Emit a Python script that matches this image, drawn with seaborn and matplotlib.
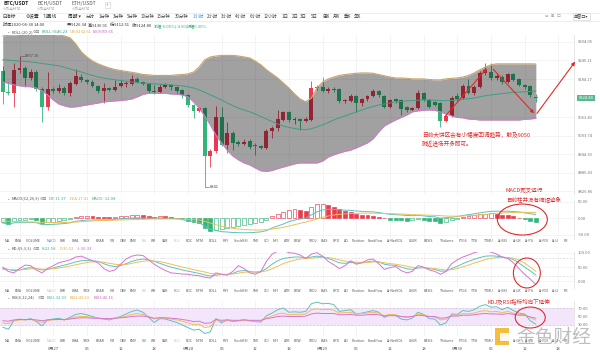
import numpy as np
import matplotlib
matplotlib.use("Agg")
import matplotlib.pyplot as plt
from matplotlib.patches import Ellipse, FancyBboxPatch
import seaborn as sns

# ---------------- data (BTC/USDT, 1h, 06-26 15:00 .. 06-30 14:00) ----------------
opens = [9211, 9144, 9139, 9213, 9219, 9187, 9208, 9152, 9095, 9152, 9148, 9156, 9140, 9169, 9192, 9180,
         9176, 9163, 9147, 9155, 9150, 9163, 9168, 9170, 9184, 9175, 9169, 9146, 9143, 9160, 9165, 9158,
         9150, 9134, 9102, 9084, 9092, 8939, 8956, 9065, 8975, 9014, 8985, 8978, 8988, 8975, 8971, 8964,
         9019, 9028, 9054, 9078, 9054, 9056, 9052, 9054, 9157, 9160, 9148, 9152, 9152, 9113, 9115, 9131,
         9107, 9120, 9130, 9145, 9131, 9097, 9120, 9118, 9097, 9086, 9092, 9139, 9118, 9110, 9107, 9052,
         9067, 9130, 9124, 9163, 9140, 9160, 9203, 9208, 9187, 9192, 9175, 9200, 9184, 9166, 9163, 9126.34]
highs = [9225, 9176, 9237, 9257.16, 9225, 9215, 9212, 9160, 9208, 9158, 9170, 9162, 9178, 9216, 9202, 9186,
         9180, 9166, 9172, 9160, 9181, 9180, 9178, 9197, 9190, 9178, 9172, 9165, 9168, 9172, 9170, 9163,
         9152, 9137, 9105, 9096, 9095, 8962, 9099, 9097, 9048, 9020, 8990, 8992, 8994, 8980, 8975, 9024,
         9035, 9086, 9084, 9083, 9062, 9060, 9062, 9177, 9166, 9192, 9158, 9158, 9155, 9122, 9136, 9134,
         9124, 9135, 9152, 9150, 9134, 9122, 9125, 9120, 9100, 9096, 9150, 9142, 9121, 9114, 9110, 9070,
         9130, 9140, 9168, 9184, 9165, 9210, 9237, 9237, 9200, 9197, 9205, 9204, 9188, 9170, 9166, 9136.91]
lows = [9105, 9134, 9097, 9205, 9160, 9183, 9145, 9049, 9086, 9140, 9140, 9133, 9132, 9165, 9176, 9170,
        9158, 9141, 9108, 9146, 9146, 9158, 9160, 9165, 9172, 9164, 9140, 9138, 9140, 9156, 9150, 9140,
        9125, 9097, 9060, 9080, 8841, 8905, 8950, 8970, 8949, 8958, 8970, 8974, 8960, 8941, 8960, 8960,
        8997, 9020, 9050, 9048, 9040, 9022, 9046, 9050, 9150, 9144, 9140, 9144, 9108, 9108, 9110, 9081,
        9100, 9116, 9126, 9128, 9093, 9093, 9108, 9070, 9080, 9082, 9088, 9114, 9093, 9098, 9033, 9046,
        9062, 9116, 9120, 9136, 9135, 9155, 9198, 9182, 9182, 9170, 9172, 9178, 9162, 9152, 9128, 9112.51]
closes = [9144, 9139, 9213, 9219, 9187, 9208, 9152, 9095, 9152, 9148, 9156, 9140, 9171, 9194, 9180, 9175,
          9163, 9147, 9155, 9151, 9160, 9171, 9172, 9184, 9175, 9169, 9145, 9143, 9160, 9165, 9158, 9146,
          9134, 9102, 9084, 9092, 8939, 8956, 9065, 8975, 9014, 8982, 8978, 8984, 8969, 8970, 8965, 9019,
          9030, 9056, 9078, 9054, 9056, 9052, 9056, 9157, 9160, 9148, 9152, 9150, 9113, 9118, 9131, 9107,
          9120, 9130, 9145, 9134, 9097, 9118, 9113, 9088, 9086, 9092, 9139, 9118, 9097, 9103, 9052, 9067,
          9125, 9120, 9163, 9140, 9160, 9203, 9213, 9187, 9195, 9175, 9200, 9182, 9166, 9160, 9134, 9124.80]

boll_up = [9322, 9324, 9325, 9327, 9329, 9329, 9329, 9329, 9329, 9327, 9325, 9322, 9316, 9297, 9271, 9255,
           9242, 9233, 9226, 9220, 9215, 9212, 9209, 9206, 9203, 9199, 9198, 9196, 9196, 9196, 9196, 9198,
           9199, 9201, 9207, 9223, 9246, 9255, 9258, 9260, 9260, 9260, 9258, 9255, 9252, 9242, 9230, 9214,
           9201, 9188, 9172, 9156, 9137, 9121, 9112, 9124, 9156, 9175, 9185, 9191, 9196, 9199, 9201, 9203,
           9204, 9204, 9203, 9199, 9195, 9191, 9188, 9188, 9187, 9185, 9185, 9185, 9183, 9182, 9182, 9185,
           9187, 9188, 9191, 9196, 9204, 9214, 9223, 9230, 9233, 9233, 9233, 9233, 9233, 9233, 9233, 9232.61]
boll_mid = [9246, 9245, 9243, 9242, 9241, 9239, 9237, 9234, 9232, 9229, 9227, 9222, 9217, 9212, 9207, 9201,
            9196, 9191, 9188, 9185, 9182, 9180, 9178, 9175, 9174, 9172, 9171, 9169, 9168, 9167, 9166, 9164,
            9163, 9160, 9156, 9150, 9142, 9134, 9126, 9118, 9108, 9100, 9092, 9086, 9080, 9073, 9065, 9057,
            9049, 9041, 9035, 9030, 9027, 9024, 9023, 9026, 9032, 9038, 9046, 9054, 9061, 9067, 9073, 9080,
            9086, 9092, 9097, 9102, 9105, 9108, 9112, 9113, 9115, 9116, 9117, 9118, 9118, 9117, 9116, 9116,
            9116, 9118, 9120, 9122, 9124, 9128, 9131, 9134, 9136, 9138, 9140, 9142, 9143, 9144, 9145, 9146.23]
boll_dn = [9175, 9171, 9166, 9163, 9161, 9160, 9156, 9147, 9134, 9118, 9105, 9099, 9095, 9096, 9099, 9102,
           9105, 9108, 9112, 9113, 9115, 9116, 9118, 9121, 9128, 9136, 9139, 9139, 9139, 9139, 9137, 9136,
           9134, 9128, 9112, 9092, 9067, 9038, 9006, 8981, 8958, 8939, 8927, 8917, 8911, 8901, 8892, 8890,
           8893, 8899, 8904, 8909, 8914, 8917, 8917, 8917, 8917, 8923, 8936, 8943, 8949, 8954, 8958, 8965,
           8973, 8981, 8994, 9016, 9035, 9045, 9054, 9062, 9070, 9080, 9083, 9085, 9086, 9085, 9080, 9073,
           9067, 9062, 9061, 9057, 9056, 9054, 9054, 9054, 9054, 9054, 9054, 9054, 9054, 9056, 9057, 9059.65]

macd_hist = [-12, -16, -8, -6, -5, -3, -4, -14, -12, -10, -8, -6, -3, 4, 6, 8,
             6, 5, 4, 3, 5, 7, 8, 9, 10, 9, 7, 5, 6, 6, 4, 2,
             -3, -8, -12, -14, -30, -38, -35, -32, -28, -25, -22, -20, -17, -14, -11, -6,
             6, 14, 20, 26, 28, 26, 23, 35, 43, 44, 40, 34, 27, 22, 19, 14,
             11, 9, 8, 5, 0, -4, -5, -6, -7, -6, -3, -5, -8, -9, -15, -10,
             -6, -2, 3, 6, 9, 12, 14, 15, 13, 10, 9, 6, 2, -3, -8, -12.08]
macd_dea = [-8, -9, -9.5, -10, -10.5, -11, -11, -12, -12.5, -13, -13, -12.5, -12, -11, -10, -9,
            -8, -7, -6.5, -6, -5.5, -5, -4.5, -4, -3.5, -3, -2.5, -2, -2, -2, -2, -2,
            -2.5, -3, -4, -5, -9, -14, -19, -24, -27, -30, -32, -33.5, -34.5, -35, -35, -34,
            -32, -30, -27, -23, -19, -15, -11, -7, -2, 3, 7, 10, 12, 13.5, 14.5, 15,
            15.5, 15.5, 15.5, 15, 14.5, 14, 13.5, 13, 12, 11, 10.5, 10, 9.5, 9, 8, 7,
            6.5, 6.5, 7, 8, 9, 10.5, 12, 13.5, 15, 16, 17, 17.5, 18, 18, 17.8, 17.41]
macd_dif = [-14, -17, -13.5, -13, -13, -12.5, -13, -19, -18.5, -18, -17, -15.5, -13.5, -9, -7, -5,
            -5, -4.5, -4.5, -4.5, -3, -1.5, -0.5, 0.5, 1.5, 1.5, 1, 0.5, 1, 1, 0, -1,
            -4, -7, -10, -12, -24, -33, -36.5, -40, -41, -42.5, -43, -43.5, -43, -42, -40.5, -37,
            -29, -23, -17, -10, -5, -2, 0.5, 10.5, 19.5, 25, 27, 27, 25.5, 24.5, 24, 22,
            21, 20, 19.5, 17.5, 14.5, 12, 11, 10, 8.5, 8, 9, 7.5, 5.5, 4.5, 0.5, 2,
            3.5, 5.5, 8.5, 11, 13.5, 16.5, 19, 21, 21.5, 21, 21.5, 20.5, 19, 16.5, 13.8, 11.37]

kdj_k = [45, 42, 38, 40, 45, 48, 45, 40, 42, 47, 52, 57, 62, 68, 72, 73,
         72, 70, 62, 55, 52, 55, 62, 70, 75, 78, 75, 70, 63, 56, 50, 45,
         40, 36, 32, 28, 23, 19, 22, 24, 24, 28, 36, 38, 35, 32, 34, 45,
         60, 72, 80, 83, 85, 85, 82, 85, 88, 86, 80, 73, 65, 63, 66, 64,
         65, 68, 71, 68, 60, 57, 56, 50, 44, 42, 47, 48, 45, 42, 36, 36,
         45, 53, 62, 70, 77, 83, 88, 89, 88, 85, 82, 76, 64, 50, 37, 22.58]
kdj_d = [42, 42, 41, 40, 42, 44, 44, 43, 43, 44, 47, 50, 54, 58, 62, 66,
         68, 69, 67, 63, 60, 58, 59, 63, 67, 70, 72, 71, 69, 65, 60, 55,
         50, 46, 41, 37, 33, 28, 26, 25, 25, 26, 29, 32, 33, 33, 33, 37,
         44, 53, 62, 69, 74, 78, 80, 81, 83, 84, 83, 80, 75, 71, 69, 67,
         66, 66, 68, 68, 65, 62, 60, 57, 53, 49, 48, 48, 47, 45, 42, 40,
         41, 45, 51, 57, 64, 70, 76, 80, 83, 84, 83, 81, 74, 64, 50, 35.52]
kdj_j = [50, 35, 30, 45, 57, 55, 40, 30, 45, 55, 65, 70, 75, 85, 88, 80,
         72, 65, 45, 35, 40, 60, 78, 88, 92, 90, 75, 60, 48, 38, 30, 28,
         26, 25, 22, 20, 15, 12, 30, 25, 22, 35, 55, 45, 30, 25, 35, 70,
         95, 105, 108, 100, 98, 92, 80, 95, 100, 88, 70, 58, 45, 55, 72, 60,
         65, 75, 78, 62, 42, 48, 52, 38, 30, 35, 55, 50, 40, 35, 25, 35,
         62, 75, 85, 92, 100, 105, 108, 102, 95, 85, 80, 65, 45, 25, 8, -10.33]

rsi1 = [25, 20, 40, 44, 42, 45, 38, 28, 42, 44, 46, 42, 48, 55, 57, 54,
        50, 46, 44, 42, 46, 50, 56, 62, 65, 60, 48, 36, 45, 44, 40, 36,
        30, 24, 18, 20, 10, 14, 45, 35, 42, 38, 40, 42, 40, 38, 37, 52,
        58, 66, 70, 60, 61, 60, 62, 80, 84, 80, 81, 78, 62, 64, 66, 56,
        58, 61, 64, 60, 48, 55, 53, 44, 42, 46, 60, 55, 45, 44, 30, 35,
        56, 55, 64, 62, 66, 74, 78, 72, 73, 66, 72, 64, 58, 56, 40, 32.03]
rsi2 = [35, 33, 40, 42, 42, 43, 40, 36, 41, 42, 43, 42, 45, 49, 50, 50,
        48, 46, 45, 44, 46, 48, 51, 55, 57, 55, 50, 44, 47, 46, 44, 42,
        39, 35, 31, 32, 24, 26, 42, 38, 41, 39, 40, 41, 40, 39, 39, 47,
        51, 56, 58, 54, 55, 55, 56, 66, 68, 66, 67, 65, 58, 59, 60, 56,
        57, 58, 60, 58, 52, 55, 54, 50, 48, 50, 56, 54, 50, 49, 42, 44,
        53, 53, 57, 56, 58, 62, 64, 61, 62, 59, 62, 58, 55, 54, 47, 41.63]
rsi3 = [40, 39, 42, 43, 43, 43, 42, 40, 42, 43, 43, 43, 44, 46, 47, 47,
        46, 46, 45, 45, 46, 47, 48, 50, 51, 51, 49, 46, 47, 47, 46, 45,
        43, 41, 38, 39, 34, 35, 43, 41, 42, 41, 41, 42, 41, 41, 41, 45,
        47, 50, 51, 50, 50, 50, 51, 56, 58, 57, 57, 57, 54, 54, 55, 53,
        53, 54, 55, 54, 51, 52, 52, 50, 49, 50, 53, 52, 50, 50, 46, 47,
        51, 51, 53, 53, 54, 56, 57, 56, 56, 55, 57, 55, 53, 53, 49, 46.16]

date_pos = [9, 15, 21, 27, 33, 39, 45, 51, 57, 63, 69, 75, 81, 87, 93, 99]
date_labels = ["6月27", "06", "12", "18", "6月28", "06", "12", "18",
               "6月29", "06", "12", "18", "6月30", "06", "12", "18"]
price_ticks = [9304.05, 9245.11, 9184.17, 9063.49, 9003.74, 8944.39, 8885.43, 8826.86]
last_price = 9124.80
macd_ticks = [50, 0, -50]
kdj_ticks = [100, 50, 0]
rsi_ticks = [70, 50, 30]

indicators = ["MA", "EMA", "VOLUME", "MACD", "DMI", "DMA", "TRIX", "BRAR", "VR", "OBV", "EMV", "RSI", "WR",
              "SAR", "KDJ", "ROC", "MTM", "BOLL", "PSY", "StochRSI", "SMI", "CCI", "MFI", "ATR", "BBW", "SKDJ",
              "BIAS", "DPO", "AO", "Position", "Fundflow", "AI-NetVOL", "LSUR", "BASIS", "TVolume", "FTGS",
              "TTSI", "TTMU", "AI-BSI", "AI-LR", "AI-PG", "AI-FDI", "AI-LI", "PR"]
ind_x = [7, 18, 33, 51, 63, 75, 87, 100, 112, 123, 133, 144, 154, 165, 177, 189, 200, 213, 226, 241, 256,
         266, 276, 287, 297, 313, 324, 336, 346, 358, 375, 395, 413, 428, 447, 463, 475, 489, 503, 517,
         530, 543.5, 556, 566]

periods = ["分时", "1分钟", "3分钟", "5分钟", "10分钟", "15分钟", "30分钟", "1小时", "2小时", "3小时",
           "4小时", "6小时", "12小时", "1日", "2日", "3日", "5日", "周K", "月K", "季K", "年K"]
period_x = [86, 99, 113, 127, 141, 157, 175, 193, 207, 221, 235, 250, 264, 282, 292, 300, 311, 323, 333,
            344, 354]

# ---------------- style ----------------
sns.set_theme(style="white")
plt.rcParams["font.family"] = ["Noto Sans CJK SC", "DejaVu Sans"]
plt.rcParams["axes.unicode_minus"] = False

RED = "#ea3a4f"
GREEN = "#33b57a"
TEAL = "#5dc2bd"
GOLD = "#f0bf55"
PINK = "#d774d3"
ANN = "#e12a2a"
GRID = "#f0f0f0"

W, H = 600, 355
fig = plt.figure(figsize=(6, 3.55), dpi=100)
fig.patch.set_facecolor("white")


def px_rect(x0, y0, x1, y1):
    return [x0 / W, 1 - y1 / H, (x1 - x0) / W, (y1 - y0) / H]


def ftext(x, y, s, fs=3.2, color="#333333", ha="left", **kw):
    fig.text(x / W, 1 - y / H, s, fontsize=fs, color=color, ha=ha, va="center", **kw)


x = np.arange(len(closes))
XL = (-0.48, 101.8)
grid_x = np.arange(3, 102, 6)


def style_panel(ax, ticks, labels, ylim):
    ax.set_xlim(*XL)
    ax.set_ylim(*ylim)
    ax.set_yticks(ticks)
    ax.set_yticklabels(labels)
    ax.yaxis.tick_right()
    ax.tick_params(axis="y", length=0, pad=3, labelsize=3.0, labelcolor="#777777")
    ax.set_xticks([])
    for s in ["top", "left", "bottom"]:
        ax.spines[s].set_visible(False)
    ax.spines["right"].set_color("#e2e2e2")
    ax.spines["right"].set_linewidth(0.6)
    for t in ticks:
        ax.axhline(t, color=GRID, lw=0.5, zorder=0)
    for g in grid_x:
        ax.axvline(g, color=GRID, lw=0.5, zorder=0)
    ax.set_xlabel("")
    ax.set_ylabel("")


# ---------------- main candle panel ----------------
ax = fig.add_axes(px_rect(0, 35, 574, 194))
o = np.array(opens); c = np.array(closes); h = np.array(highs); l = np.array(lows)
up = c >= o
cols = np.where(up, RED, GREEN)
ax.vlines(x, l, h, colors=cols, lw=0.6, zorder=2)
ax.bar(x, np.maximum(np.abs(c - o), 0.8), bottom=np.minimum(o, c), width=0.7, color=cols, lw=0, zorder=2)
ax.fill_between(x, boll_dn, boll_up, color="black", alpha=0.37, lw=0, zorder=3)
sns.lineplot(x=x, y=boll_up, ax=ax, color="#c9a468", lw=0.8, zorder=4)
sns.lineplot(x=x, y=boll_dn, ax=ax, color="#d27ac9", lw=0.8, zorder=4)
sns.lineplot(x=x, y=boll_mid, ax=ax, color="#3f9e82", lw=0.7, zorder=4)
style_panel(ax, price_ticks, ["%.2f" % p for p in price_ticks], (8818, 9325))

ih = int(np.argmax(h)); il = int(np.argmin(l))
ax.plot([ih + 0.25, ih + 0.9], [h[ih], h[ih]], color="#555555", lw=0.4, zorder=5)
ax.text(ih + 1.0, h[ih], "%.2f" % h[ih], fontsize=2.9, color="#444444", va="center", zorder=5)
ax.plot([il, il + 0.8], [l[il], l[il]], color="#555555", lw=0.4, zorder=5)
ax.text(il + 0.95, l[il], "%d" % l[il], fontsize=2.9, color="#444444", va="center", zorder=5)

arrow = dict(arrowstyle="-|>", color=ANN, lw=0.8, mutation_scale=5, shrinkA=0, shrinkB=0)
ax.annotate("", xy=(86.3, 9219), xytext=(78.9, 9067), arrowprops=arrow, annotation_clip=False, zorder=6)
ax.annotate("", xy=(94.7, 9075), xytext=(87.4, 9216), arrowprops=arrow, annotation_clip=False, zorder=6)
ax.annotate("", xy=(102.0, 9240), xytext=(95.2, 9075), arrowprops=arrow, annotation_clip=False, zorder=6)

# ---------------- MACD panel ----------------
axm = fig.add_axes(px_rect(0, 201, 574, 239))
hist = np.array(macd_hist)
prev = np.concatenate([[hist[0] - 1], hist[:-1]])
for i, v in enumerate(hist):
    col = RED if v >= 0 else GREEN
    hollow = v > prev[i]
    axm.bar(i, v, width=0.7, color="white" if hollow else col, edgecolor=col, lw=0.45, zorder=2)
sns.lineplot(x=x, y=macd_dif, ax=axm, color=TEAL, lw=0.7, zorder=3)
sns.lineplot(x=x, y=macd_dea, ax=axm, color=GOLD, lw=0.7, zorder=3)
style_panel(axm, macd_ticks, ["50.00", "0.00", "-50.00"], (-62, 52))
axm.add_patch(Ellipse((92.6, -3.6), 8.9, 93, fill=False, ec=ANN, lw=0.8, clip_on=False, zorder=6))

# ---------------- KDJ panel ----------------
axk = fig.add_axes(px_rect(0, 252, 574, 288))
for t in (20, 80):
    axk.axhline(t, color="#d8d8d8", lw=0.5, ls=(0, (3, 2)), zorder=1)
sns.lineplot(x=x, y=kdj_k, ax=axk, color=TEAL, lw=0.7, zorder=3)
sns.lineplot(x=x, y=kdj_d, ax=axk, color=GOLD, lw=0.7, zorder=3)
sns.lineplot(x=x, y=kdj_j, ax=axk, color=PINK, lw=0.7, zorder=3)
style_panel(axk, kdj_ticks, ["100.00", "50.00", "0.00"], (-22.6, 102.4))
axk.add_patch(Ellipse((93.4, 29.5), 4.8, 104, fill=False, ec=ANN, lw=0.8, clip_on=False, zorder=6))

# ---------------- RSI panel ----------------
axr = fig.add_axes(px_rect(0, 301, 574, 336))
axr.axhspan(30, 70, color="#f3e6fb", lw=0, zorder=0.5)
for t in (30, 70):
    axr.axhline(t, color="#cfc3d6", lw=0.5, ls=(0, (3, 2)), zorder=1)
sns.lineplot(x=x, y=rsi1, ax=axr, color=TEAL, lw=0.7, zorder=3)
sns.lineplot(x=x, y=rsi2, ax=axr, color=GOLD, lw=0.7, zorder=3)
sns.lineplot(x=x, y=rsi3, ax=axr, color=PINK, lw=0.7, zorder=3)
style_panel(axr, rsi_ticks, ["70.00", "50.00", "30.00"], (4.1, 86.5))
axr.set_xticks(date_pos)
axr.set_xticklabels(date_labels)
axr.tick_params(axis="x", length=0, pad=7.6, labelsize=3.0, labelcolor="#555555")
axr.add_patch(Ellipse((94.0, 47.6), 5.35, 49.4, fill=False, ec=ANN, lw=0.8, clip_on=False, zorder=6))

# ---------------- toolbar and labels ----------------
ftext(3, 3.5, "BTC/USDT", fs=3.6, color="#222222", weight="bold")
ftext(3, 8.3, "火币全球站", fs=2.6, color="#aaaaaa")
ftext(37, 3.5, "BCH/USDT", fs=3.6, color="#555555")
ftext(37, 8.3, "火币全球站", fs=2.6, color="#aaaaaa")
ftext(72, 3.5, "ETH/USDT", fs=3.6, color="#555555")
ftext(72, 8.3, "火币全球站", fs=2.6, color="#aaaaaa")
ftext(106, 5, "+", fs=3.4, color="#999999",
      bbox=dict(boxstyle="square,pad=0.2", fc="white", ec="#cccccc", lw=0.4))
for yy in (12.5, 20.5):
    fig.add_artist(plt.Line2D([0, 1], [1 - yy / H] * 2, color="#e8e8e8", lw=0.5))

ftext(3, 16.3, "⊟指标", fs=3.4)
ftext(26, 16.3, "⚙设置", fs=3.4)
ftext(43, 16.3, "⇅画线", fs=3.4)
ftext(68, 16.3, "周期 ▾", fs=3.4)
for name, px in zip(periods, period_x):
    ftext(px, 16.3, name, fs=3.2, color="#3d8fe0" if name == "1小时" else "#444444")
ftext(545, 16.3, "⇔  ⊞  ☐", fs=3.0, color="#888888", family=["DejaVu Sans"])
ftext(574, 16.3, "单窗口▾", fs=3.0, color="#444444",
      bbox=dict(boxstyle="square,pad=0.25", fc="white", ec="#cccccc", lw=0.4))

info = [("时间2020-06-30 14:00", 3, "#333333"), ("开:9126.34", 67, "#333333"), ("高:9136.91", 88, "#333333"),
        ("低:9112.51", 110, "#333333"), ("收:9124.80", 132, "#333333"), ("涨幅-0.05%(-4.50)", 154, GREEN),
        ("振幅0.30%", 187, GREEN)]
for s, px, col in info:
    ftext(px, 25.5, s, fs=3.0, color=col)


def panel_label(y, name, parts):
    ftext(6, y, "⌄", fs=3.0, color="#888888")
    ftext(12, y, name, fs=3.0, color="#555555")
    ftext(12 + 2.1 * len(name), y, "⚙⊠", fs=2.8, color="#888888")
    px = 21 + 2.1 * len(name)
    for s, col in parts:
        ftext(px, y, s, fs=3.0, color=col)
        px += 2.05 * len(s) + 3


panel_label(32.2, "BOLL(20,2)", [("BOLL:9146.23", "#2e9e86"), ("UB:9232.61", "#d6a23e"), ("LB:9059.65", "#c960c4")])
panel_label(198.5, "MACD(12,26,9)", [("DIF:11.37", "#3ab3aa"), ("DEA:17.41", "#e3a93a"), ("MACD:-12.08", "#3ab38a")])
panel_label(248.5, "KDJ(9,3,3)", [("K:22.58", "#3ab3aa"), ("D:35.52", "#e3a93a"), ("J:-10.33", "#c960c4")])
panel_label(297.7, "RSI(6,12,24)", [("RSI1:32.03", "#3ab3aa"), ("RSI2:41.63", "#e3a93a"), ("RSI3:46.16", "#c960c4")])

rows = [(241.5, "MACD", ("RSI", "KDJ")), (291.0, "KDJ", ("MACD", "RSI")), (340.5, "RSI", ("MACD", "KDJ"))]
for yy, active, faded in rows:
    for name, px in zip(indicators, ind_x):
        col = "#3d8fe0" if name == active else ("#c0c0c0" if name in faded else "#555555")
        ftext(px, yy, name, fs=2.5, color=col, ha="center")

# current price tag
ftext(586, 97.8, "%.2f" % last_price, fs=3.0, color="white", ha="center",
      bbox=dict(boxstyle="square,pad=0.3", fc="#5cb88b", ec="none"))

# red notes
ftext(422, 135.0, "目前大饼区会有小幅度回调趋势，触及9050", fs=4.1, color=ANN)
ftext(422, 144.5, "附近进场开多即可。", fs=4.1, color=ANN)
ftext(506, 190.0, "MACD死叉运行", fs=4.0, color=ANN)
ftext(506, 199.5, "目前柱并没有缩短迹象", fs=4.0, color=ANN)
ftext(488, 301.5, "KDJ及RSI指标均向下延伸", fs=4.0, color=ANN)

# watermark
ov = fig.add_axes([0, 0, 1, 1], zorder=10)
ov.set_xlim(0, W)
ov.set_ylim(H, 0)
ov.axis("off")
ov.add_patch(FancyBboxPatch((495.5, 328.5), 13, 16, boxstyle="round,pad=0.5", fc="#f4b62a", ec="none", alpha=0.9))
ov.add_patch(FancyBboxPatch((500, 333), 8.5, 7.5, boxstyle="square,pad=0", fc="white", ec="none", alpha=0.9))
ov.text(554, 337, "金色财经", fontsize=13.5, color="#8a8a8a", alpha=0.55, ha="center", va="center")

fig.savefig("out.png", dpi=100, facecolor="white")
